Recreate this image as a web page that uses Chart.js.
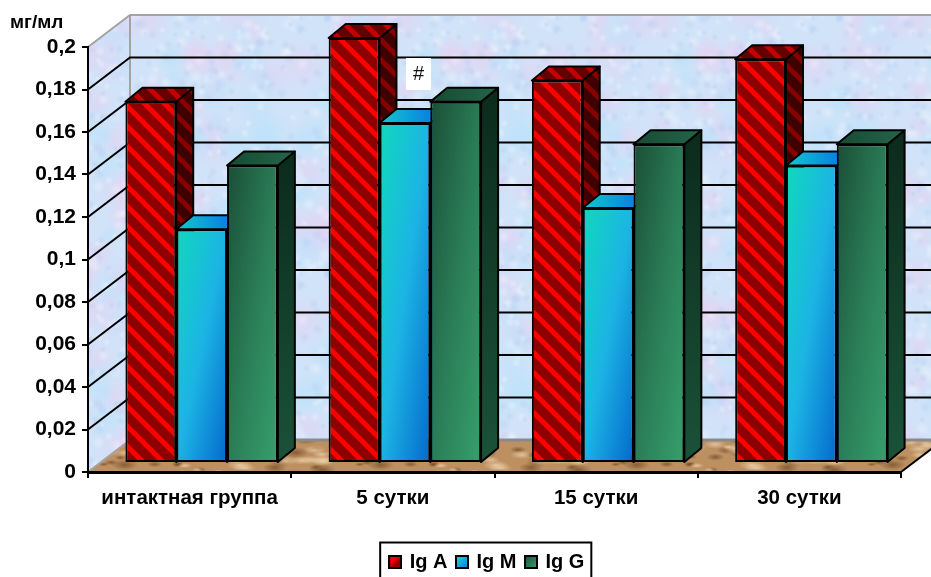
<!DOCTYPE html>
<html lang="ru">
<head>
<meta charset="utf-8">
<title>Ig A, Ig M, Ig G</title>
<style>
    html, body { margin: 0; padding: 0; background: #fff; overflow: hidden; }
    canvas { display: block; }
</style>
<script src="https://cdn.jsdelivr.net/npm/chart.js@4/dist/chart.umd.min.js"></script>
</head>
<body>
<canvas id="chart" width="931" height="577"></canvas>
<script>
const categories = ['интактная группа', '5 сутки', '15 сутки', '30 сутки'];
const igA = [0.17, 0.2, 0.18, 0.19];
const igM = [0.11, 0.16, 0.12, 0.14];
const igG = [0.14, 0.17, 0.15, 0.15];
const seriesNames = ['Ig A', 'Ig M', 'Ig G'];
const yTickLabels = ['0', '0,02', '0,04', '0,06', '0,08', '0,1', '0,12', '0,14', '0,16', '0,18', '0,2'];

const FONT = "'Liberation Sans', Arial, sans-serif";
const WALL = { dx: 42, dy: -32 };    // back wall offset from the axis plane
const ROW = { dx: 12, dy: -9 };      // bar row offset from the axis plane
const BOX = { dx: 17, dy: -14 };     // depth of one bar

/* ── Textures ──────────────────────────────────────────── */
function mottled(size, base, blotches, seed) {
    const c = document.createElement('canvas');
    c.width = c.height = size;
    const g = c.getContext('2d');
    g.fillStyle = base;
    g.fillRect(0, 0, size, size);
    let s = seed;
    const next = () => {
        s = (s * 1664525 + 1013904223) % 4294967296;
        return s / 4294967296;
    };
    blotches.forEach(b => {
        for (let i = 0; i < b.count; i++) {
            const x = next() * size, y = next() * size;
            const r = b.min + next() * (b.max - b.min);
            // wrap so the tile repeats without seams
            [-size, 0, size].forEach(ox => [-size, 0, size].forEach(oy => {
                g.save();
                g.translate(x + ox, y + oy);
                g.scale(b.stretch || 1, 1);
                const rad = g.createRadialGradient(0, 0, 0, 0, 0, r);
                rad.addColorStop(0, b.color);
                rad.addColorStop(1, b.color.replace(/[\d.]+\)$/, '0)'));
                g.fillStyle = rad;
                g.beginPath();
                g.arc(0, 0, r, 0, Math.PI * 2);
                g.fill();
                g.restore();
            }));
        }
    });
    return c;
}

function stripes(bright, dark) {
    const size = 20;
    const c = document.createElement('canvas');
    c.width = c.height = size;
    const g = c.getContext('2d');
    g.fillStyle = dark;
    g.fillRect(0, 0, size, size);
    g.strokeStyle = bright;
    g.lineWidth = 5;
    [-size, 0, size].forEach(o => {
        g.beginPath();
        g.moveTo(o - 2, -2);
        g.lineTo(o + size + 2, size + 2);
        g.stroke();
    });
    return c;
}

const wallTile = mottled(256, '#d0e3f8', [
    { color: 'rgba(232,208,242,0.60)', count: 44, min: 10, max: 28 },
    { color: 'rgba(186,226,250,0.60)', count: 44, min: 10, max: 26 },
    { color: 'rgba(245,248,255,0.40)', count: 200, min: 3, max: 8 },
    { color: 'rgba(176,200,238,0.35)', count: 200, min: 3, max: 7 },
], 7);
const floorTile = mottled(256, '#bd9062', [
    { color: 'rgba(110,70,35,0.70)', count: 190, min: 2, max: 6, stretch: 2.4 },
    { color: 'rgba(238,210,172,0.75)', count: 210, min: 2, max: 5, stretch: 2.6 },
], 23);

const ctx = document.getElementById('chart').getContext('2d');
const wallPattern = ctx.createPattern(wallTile, 'repeat');
const floorPattern = ctx.createPattern(floorTile, 'repeat');
const redFront = ctx.createPattern(stripes('#ff0000', '#8e0000'), 'repeat');
const redTop = ctx.createPattern(stripes('#c40000', '#640000'), 'repeat');
const redSide = ctx.createPattern(stripes('#880000', '#3e0000'), 'repeat');

/* ── Bar faces ─────────────────────────────────────────── */
function barBox(chart, datasetIndex, dataIndex) {
    const { x, y } = chart.scales;
    const groupW = (x.width / categories.length) * 0.75;
    const w = groupW / seriesNames.length;
    const left = x.getPixelForTick(dataIndex) - groupW / 2 + w * datasetIndex;
    const value = chart.data.datasets[datasetIndex].data[dataIndex];
    return { left, right: left + w, top: y.getPixelForValue(value), base: y.getPixelForValue(0) };
}

// Corner-to-corner blend: the other two corners get the same middle tone
function cornerFill(stops) {
    return context => {
        if (context.dataIndex === undefined) return stops[0];
        const b = barBox(context.chart, context.datasetIndex, context.dataIndex);
        const w = b.right - b.left, h = b.base - b.top;
        const k = (2 * w * h) / (w * w + h * h);
        const grad = context.chart.ctx.createLinearGradient(b.left, b.top, b.left + h * k, b.top + w * k);
        stops.forEach((col, i) => grad.addColorStop(i / (stops.length - 1), col));
        return grad;
    };
}

function ramp(c, x0, y0, x1, y1, from, to) {
    const grad = c.createLinearGradient(x0, y0, x1, y1);
    grad.addColorStop(0, from);
    grad.addColorStop(1, to);
    return grad;
}

const sideStyles = [
    { top: () => redTop, side: () => redSide },
    {
        top: (c, b) => ramp(c, b.left, 0, b.left + BOX.dx + 30, 0, '#14c8d0', '#0a86e0'),
        side: (c, b) => ramp(c, 0, b.top, 0, b.base, '#0a6fb0', '#063f80'),
    },
    {
        top: (c, b) => ramp(c, b.left, 0, b.right + BOX.dx, 0, '#174a33', '#24654a'),
        side: (c, b) => ramp(c, 0, b.top, 0, b.base, '#0c2c1e', '#1a5238'),
    },
];

// Side and top of every bar, under the front faces the datasets paint
function drawBoxFaces(chart) {
    const c = chart.ctx;
    c.lineWidth = 2;
    c.strokeStyle = '#000';
    c.lineJoin = 'round';
    categories.forEach((_, i) => {
        seriesNames.forEach((__, ds) => {
            const bar = chart.getDatasetMeta(ds).data[i];
            const b = { left: bar.x - bar.width / 2, right: bar.x + bar.width / 2, top: bar.y, base: bar.base };

            c.beginPath();
            c.moveTo(b.right, b.top);
            c.lineTo(b.right + BOX.dx, b.top + BOX.dy);
            c.lineTo(b.right + BOX.dx, b.base + BOX.dy);
            c.lineTo(b.right, b.base);
            c.closePath();
            c.fillStyle = sideStyles[ds].side(c, b);
            c.fill();
            c.stroke();

            c.beginPath();
            c.moveTo(b.left, b.top);
            c.lineTo(b.left + BOX.dx, b.top + BOX.dy);
            c.lineTo(b.right + BOX.dx, b.top + BOX.dy);
            c.lineTo(b.right, b.top);
            c.closePath();
            c.fillStyle = sideStyles[ds].top(c, b);
            c.fill();
            c.stroke();
        });
    });
}

/* ── Box walls and floor ───────────────────────────────── */
const roomPlugin = {
    id: 'room',
    afterLayout(chart) {
        // legend sits right of centre, under the bars
        const legend = chart.legend;
        legend.left += 37;
        legend.right += 37;
        legend.top += 5;
        legend.bottom += 5;
        legend.adjustHitBoxes();
    },
    beforeDraw(chart) {
        const c = chart.ctx;
        const { left, right, top, bottom } = chart.chartArea;
        const bx = left + WALL.dx;
        const by = bottom + WALL.dy;
        const ty = top + WALL.dy;

        c.save();
        c.fillStyle = wallPattern;
        c.fillRect(bx, ty, right + WALL.dx - bx, by - ty);

        c.beginPath();
        c.moveTo(left, bottom);
        c.lineTo(bx, by);
        c.lineTo(bx, ty);
        c.lineTo(left, top);
        c.closePath();
        c.fill();

        c.beginPath();
        c.moveTo(left, bottom);
        c.lineTo(bx, by);
        c.lineTo(right + WALL.dx, by);
        c.lineTo(right, bottom);
        c.closePath();
        c.fillStyle = floorPattern;
        c.fill();

        // grey frame of the walls
        c.strokeStyle = '#a3a3a3';
        c.lineWidth = 2;
        c.beginPath();
        c.moveTo(left, top);
        c.lineTo(bx, ty);
        c.lineTo(right + WALL.dx, ty);
        c.moveTo(bx, ty);
        c.lineTo(bx, by);
        c.lineTo(left, bottom);
        c.stroke();
        c.strokeStyle = '#8a8a8a';
        c.lineWidth = 3;
        c.beginPath();
        c.moveTo(bx, by);
        c.lineTo(right + WALL.dx, by);
        c.stroke();

        // value lines run along the side wall and across the back wall
        const yScale = chart.scales.y;
        c.strokeStyle = '#000';
        c.lineWidth = 2;
        yScale.ticks.forEach(t => {
            if (t.value === 0 || t.value === yScale.max) return;
            const py = yScale.getPixelForValue(t.value);
            c.beginPath();
            c.moveTo(left, py);
            c.lineTo(bx, py + WALL.dy);
            c.lineTo(right + WALL.dx, py + WALL.dy);
            c.stroke();
        });

        // right edge of the floor
        c.beginPath();
        c.moveTo(right, bottom);
        c.lineTo(right + WALL.dx, by);
        c.stroke();
        c.restore();
    },
    beforeDatasetsDraw(chart) {
        chart.ctx.save();
        chart.ctx.translate(ROW.dx, ROW.dy);
        drawBoxFaces(chart);
    },
    afterDatasetsDraw(chart) {
        chart.ctx.restore();
    },
    afterDraw(chart) {
        const c = chart.ctx;
        c.save();

        // unit caption
        c.fillStyle = '#000';
        c.font = `bold 19px ${FONT}`;
        c.textAlign = 'left';
        c.textBaseline = 'alphabetic';
        c.fillText('мг/мл', 10, 28);

        // significance mark over the 5 сутки group
        c.fillStyle = '#fff';
        c.fillRect(406, 58, 25, 32);
        c.fillStyle = '#111';
        c.font = `20px ${FONT}`;
        c.textAlign = 'center';
        c.fillText('#', 418.5, 80);

        // legend frame
        const boxes = chart.legend.legendHitBoxes;
        const last = boxes[boxes.length - 1];
        const l = boxes[0].left - 10.5;
        const r = last.left + last.width + 7;
        c.strokeStyle = '#000';
        c.lineWidth = 2;
        c.strokeRect(l, chart.legend.top + 1 - 0.5, r - l, 60);
        c.restore();
    },
};

/* ── Legend swatches ───────────────────────────────────── */
function swatch(fill) {
    const c = document.createElement('canvas');
    c.width = c.height = 14;
    const g = c.getContext('2d');
    g.fillStyle = '#000';
    g.fillRect(0, 0, 14, 14);
    const grad = g.createLinearGradient(2, 2, 12, 12);
    fill.forEach((col, i) => grad.addColorStop(i / (fill.length - 1), col));
    g.fillStyle = grad;
    g.fillRect(2, 2, 10, 10);
    return c;
}
const swatches = [
    swatch(['#ff0000', '#ff0000', '#8e0000', '#8e0000']),
    swatch(['#12d4d8', '#0a86e0']),
    swatch(['#1c5a3e', '#339966']),
];

/* ── Chart ─────────────────────────────────────────────── */
new Chart(ctx, {
    type: 'bar',
    data: {
        labels: categories,
        datasets: [
            { label: seriesNames[0], data: igA, backgroundColor: redFront },
            { label: seriesNames[1], data: igM, backgroundColor: cornerFill(['#10d8bc', '#1cb4e4', '#0468cc']) },
            { label: seriesNames[2], data: igG, backgroundColor: cornerFill(['#1a4e36', '#2a7c56', '#36a06c']) },
        ].map(d => ({
            ...d,
            borderColor: '#000',
            borderWidth: 2,
            borderSkipped: false,
            categoryPercentage: 0.75,
            barPercentage: 1,
            clip: false,
        })),
    },
    options: {
        responsive: false,
        devicePixelRatio: 1,
        animation: false,
        layout: { padding: { left: 0, right: 30, top: 47, bottom: 0 } },
        plugins: {
            tooltip: { enabled: false },
            legend: {
                position: 'bottom',
                labels: {
                    usePointStyle: true,
                    boxWidth: 9,
                    boxHeight: 14,
                    padding: 10,
                    color: '#000',
                    font: { family: FONT, size: 20, weight: 'bold' },
                    generateLabels: () => seriesNames.map((name, i) => ({
                        text: name,
                        pointStyle: swatches[i],
                        datasetIndex: i,
                        fontColor: '#000',
                        hidden: false,
                    })),
                },
            },
        },
        scales: {
            x: {
                grid: { drawOnChartArea: false, drawTicks: true, tickLength: 6, color: '#000', lineWidth: 2, offset: true },
                border: { display: true, color: '#000', width: 3 },
                ticks: {
                    color: '#000',
                    padding: 8,
                    maxRotation: 0,
                    autoSkip: false,
                    font: { family: FONT, size: 20.5, weight: 'bold' },
                },
                afterFit: s => { s.height = 65; },
            },
            y: {
                min: 0,
                max: 0.2,
                grid: { drawOnChartArea: false, drawTicks: true, tickLength: 6, color: '#000', lineWidth: 2 },
                border: { display: true, color: '#000', width: 2 },
                ticks: {
                    stepSize: 0.02,
                    color: '#000',
                    padding: 6,
                    font: { family: FONT, size: 21, weight: 'bold' },
                    callback: (v, i) => yTickLabels[i],
                },
                afterFit: s => { s.width = 88; },
            },
        },
    },
    plugins: [roomPlugin],
});
</script>
</body>
</html>
